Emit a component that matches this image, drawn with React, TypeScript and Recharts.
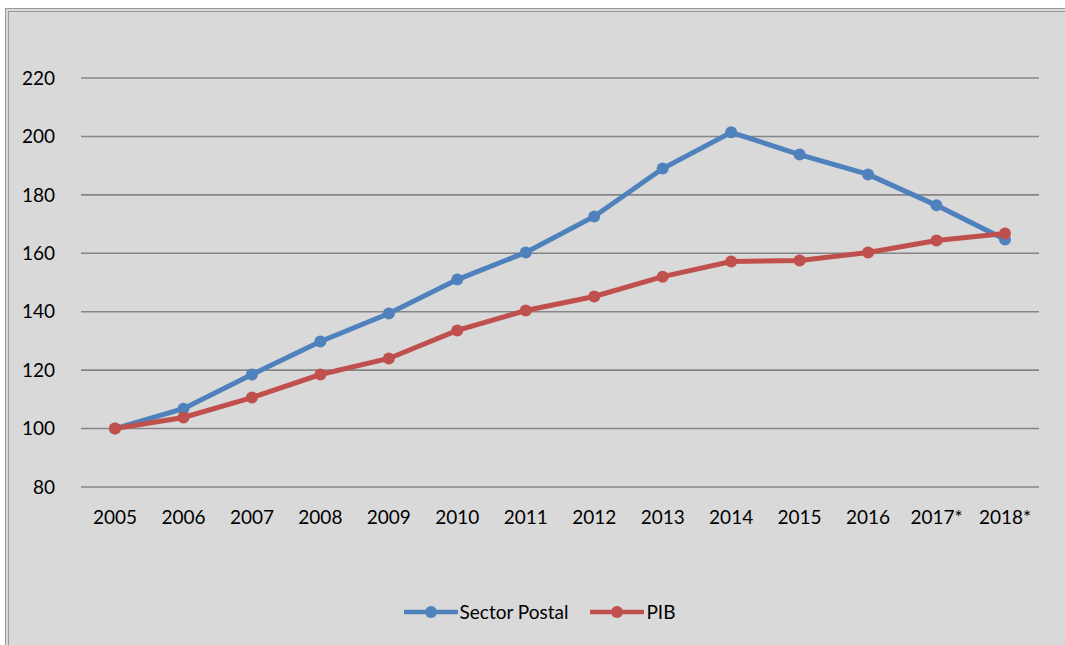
import React from "react";
import { LineChart, Line, XAxis, YAxis, CartesianGrid } from "recharts";

const years = ["2005", "2006", "2007", "2008", "2009", "2010", "2011", "2012", "2013", "2014", "2015", "2016", "2017*", "2018*"];
const sectorPostal = [100, 106.8, 118.5, 129.8, 139.4, 151, 160.3, 172.6, 189, 201.4, 193.8, 187, 176.4, 164.7];
const pib = [100, 103.8, 110.6, 118.5, 124, 133.6, 140.4, 145.2, 152, 157.2, 157.5, 160.3, 164.4, 166.8];
const yTicks = [80, 100, 120, 140, 160, 180, 200, 220];

const data = years.map((y, i) => ({ year: y, sp: sectorPostal[i], pib: pib[i] }));

const FONT = "Lato, 'Open Sans', sans-serif";
const BLUE = "#4f81bd";
const RED = "#c0504d";

const legendItems = [
  { label: "Sector Postal", color: BLUE },
  { label: "PIB", color: RED },
];

const LegendBlock = () => (
  <div
    style={{
      position: "absolute",
      left: 0,
      top: 600,
      width: 1065,
      display: "flex",
      justifyContent: "center",
      alignItems: "center",
      fontFamily: FONT,
      fontSize: 19,
      color: "#000",
      paddingLeft: 14,
      boxSizing: "border-box",
    }}
  >
    {legendItems.map((it, i) => (
      <div key={i} style={{ display: "flex", alignItems: "center", marginRight: i === 0 ? 22 : 0 }}>
        <svg width={54} height={14} style={{ marginRight: 2 }}>
          <line x1={1} y1={7} x2={53} y2={7} stroke={it.color} strokeWidth={4.5} strokeLinecap="round" />
          <circle cx={27} cy={7} r={6} fill={it.color} />
        </svg>
        <span>{it.label}</span>
      </div>
    ))}
  </div>
);

export default function App() {
  return (
    <div style={{ position: "absolute", left: 0, top: 0, width: 1065, height: 645, background: "#fff", overflow: "hidden" }}>
      <div
        style={{
          position: "absolute",
          left: 5,
          top: 8,
          width: 1200,
          height: 700,
          background: "#d9d9d9",
          border: "4px double #9a9a9a",
          boxSizing: "border-box",
        }}
      />
      <div style={{ position: "absolute", left: 0, top: 0 }}>
        <LineChart width={1065} height={645} data={data} margin={{ top: 78, right: 26, bottom: 0, left: 0 }}>
          <CartesianGrid vertical={false} stroke="#868686" strokeWidth={1.6} />
          <XAxis
            dataKey="year"
            axisLine={false}
            tickLine={false}
            tickMargin={18}
            height={158}
            padding={{ left: 34, right: 34 }}
            tick={{ fontFamily: FONT, fontSize: 19, fill: "#000" }}
            interval={0}
          />
          <YAxis
            domain={[80, 220]}
            ticks={yTicks}
            axisLine={false}
            tickLine={false}
            width={81}
            tickMargin={20}
            tick={{ fontFamily: FONT, fontSize: 19, fill: "#000" }}
          />
          <Line dataKey="sp" stroke={BLUE} strokeWidth={5} dot={{ r: 6, fill: BLUE, stroke: BLUE, strokeWidth: 0 }} isAnimationActive={false} />
          <Line dataKey="pib" stroke={RED} strokeWidth={5} dot={{ r: 6, fill: RED, stroke: RED, strokeWidth: 0 }} isAnimationActive={false} />
        </LineChart>
      </div>
      <LegendBlock />
    </div>
  );
}
